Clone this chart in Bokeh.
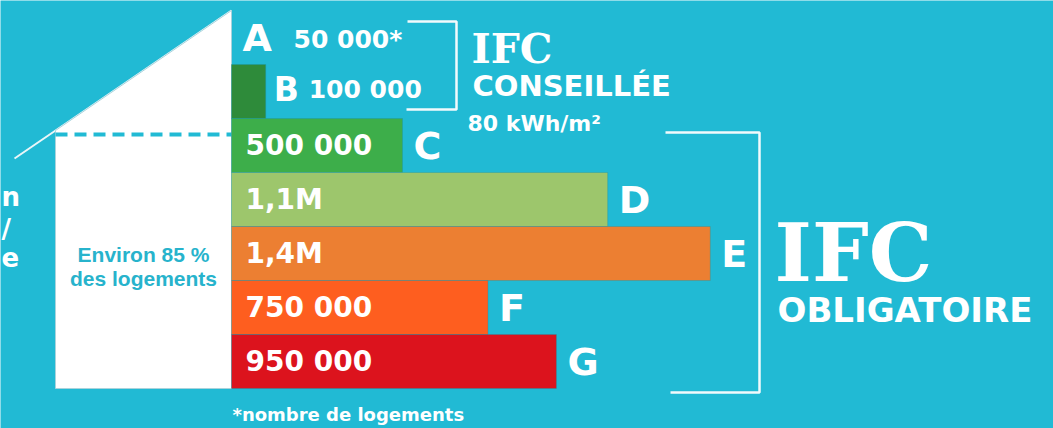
from bokeh.plotting import figure
from bokeh.models import Range1d, ColumnDataSource
from bokeh.core.properties import value
from bokeh.embed import file_html
from bokeh.resources import INLINE

# ---- data ----
classes = ["A", "B", "C", "D", "E", "F", "G"]
households = [50000, 100000, 500000, 1100000, 1400000, 750000, 950000]
count_labels = ["50 000*", "100 000", "500 000", "1,1M", "1,4M", "750 000", "950 000"]
bar_shown = [False, True, True, True, True, True, True]
bar_colors = ["#2E8B3A", "#2E8B3A", "#3DAE4A", "#9DC66C", "#EC7F32", "#FE5E1F", "#DC131D"]

BG = "#21BAD4"
W_PX, H_PX = 1053, 428
X0, X1 = 0, 1053          # reference pixel space (x)
Y_TOP, Y_BOT = 0, 428     # reference pixel space (y, downwards)
BAR_ORIGIN = 231          # px
PX_PER_HH = 342 / 1e6     # px per household
ROW_TOP, ROW_H = 10, 54

p = figure(width=W_PX, height=H_PX,
           x_range=Range1d(X0, X1), y_range=Range1d(Y_BOT, Y_TOP),
           x_axis_type=None, y_axis_type=None,
           toolbar_location=None, output_backend="svg", min_border=0,
           outline_line_color=None,
           background_fill_color=BG, border_fill_color=BG)
p.grid.visible = False
p.extra_x_ranges = {"hh": Range1d((X0 - BAR_ORIGIN) / PX_PER_HH, (X1 - BAR_ORIGIN) / PX_PER_HH)}
p.extra_y_ranges = {"rows": Range1d((Y_BOT - ROW_TOP) / ROW_H, (Y_TOP - ROW_TOP) / ROW_H)}

WHITE_BOLD = dict(text_font=value("DejaVu Sans"), text_font_style="bold",
                  text_color="white", text_baseline="middle")

# ---- house ----
p.line([14, 231], [158, 10], line_color="#EAF6F8", line_width=2)
p.patch([55, 231, 231, 55], [130, 10, 388, 388], fill_color="white",
        line_color="#A9D3DC", line_width=1)
p.line([55, 231], [134, 134], line_color=BG, line_width=4, line_dash="12 7")
p.text(x=[143, 143], y=[254, 278], text=["Environ 85 %", "des logements"],
       text_font=value("Liberation Sans"), text_font_style="bold",
       text_font_size="21px", text_color="#27B3CC", text_align="center",
       text_baseline="middle")

# text fragments at the left edge
p.text(x=[1, 1, 1], y=[196, 228, 256], text=["n", "/", "e"],
       text_font_size="26px", text_align="left", **WHITE_BOLD)

# ---- bars ----
rows = [i + 0.5 for i in range(len(classes))]
idx = [i for i in range(len(classes)) if bar_shown[i]]
src = ColumnDataSource(dict(y=[rows[i] for i in idx],
                            right=[households[i] for i in idx],
                            color=[bar_colors[i] for i in idx]))
p.hbar(y="y", left=0, right="right", height=1, fill_color="color",
       line_color="#1B8FA2", line_alpha=0.35, line_width=1, source=src,
       x_range_name="hh", y_range_name="rows")

bar_end = [households[i] if bar_shown[i] else 0 for i in range(len(classes))]
big = [i for i in range(len(classes)) if i != 1]

# class letters
p.text(x=[bar_end[i] for i in big], y=[rows[i] for i in big],
       text=[classes[i] for i in big], x_offset=11, y_offset=0,
       text_font_size="38px", x_range_name="hh", y_range_name="rows", **WHITE_BOLD)
p.text(x=[bar_end[1]], y=[rows[1]], text=[classes[1]], x_offset=8, y_offset=-2,
       text_font_size="33px", x_range_name="hh", y_range_name="rows", **WHITE_BOLD)

# labels inside bars (C..G)
p.text(x=[0] * 5, y=rows[2:], text=count_labels[2:], x_offset=14, y_offset=0,
       text_font_size="28px", x_range_name="hh", y_range_name="rows", **WHITE_BOLD)

# labels for A and B (outside)
p.text(x=[0], y=[rows[0]], text=[count_labels[0]], x_offset=62, y_offset=2,
       text_font_size="25px", x_range_name="hh", y_range_name="rows", **WHITE_BOLD)
p.text(x=[bar_end[1]], y=[rows[1]], text=[count_labels[1]], x_offset=43, y_offset=-2,
       text_font_size="25px", x_range_name="hh", y_range_name="rows", **WHITE_BOLD)

# ---- brackets ----
p.line([407, 456, 456, 406], [21, 21, 109, 109], line_color="#F2FAFC", line_width=2.5)
p.line([665, 759, 759, 670], [132, 132, 392, 392], line_color="#F2FAFC", line_width=2.5)

# ---- headings ----
p.text(x=[471], y=[48], text=["IFC"], text_font=value("DejaVu Serif"),
       text_font_style="bold", text_font_size="41px", text_color="white",
       text_baseline="middle")
p.text(x=[472], y=[85], text=["CONSEILLÉE"], text_font_size="29px", **WHITE_BOLD)
p.text(x=[467], y=[123], text=["80 kWh/m²"], text_font_size="22px", **WHITE_BOLD)
p.text(x=[774], y=[252], text=["IFC"], text_font=value("DejaVu Serif"),
       text_font_style="bold", text_font_size="80px", text_color="white",
       text_baseline="middle")
p.text(x=[777], y=[309], text=["OBLIGATOIRE"], text_font_size="34px", **WHITE_BOLD)
p.text(x=[232], y=[414], text=["*nombre de logements"], text_font_size="18px", **WHITE_BOLD)

open("out.html", "w").write(file_html(p, INLINE))
